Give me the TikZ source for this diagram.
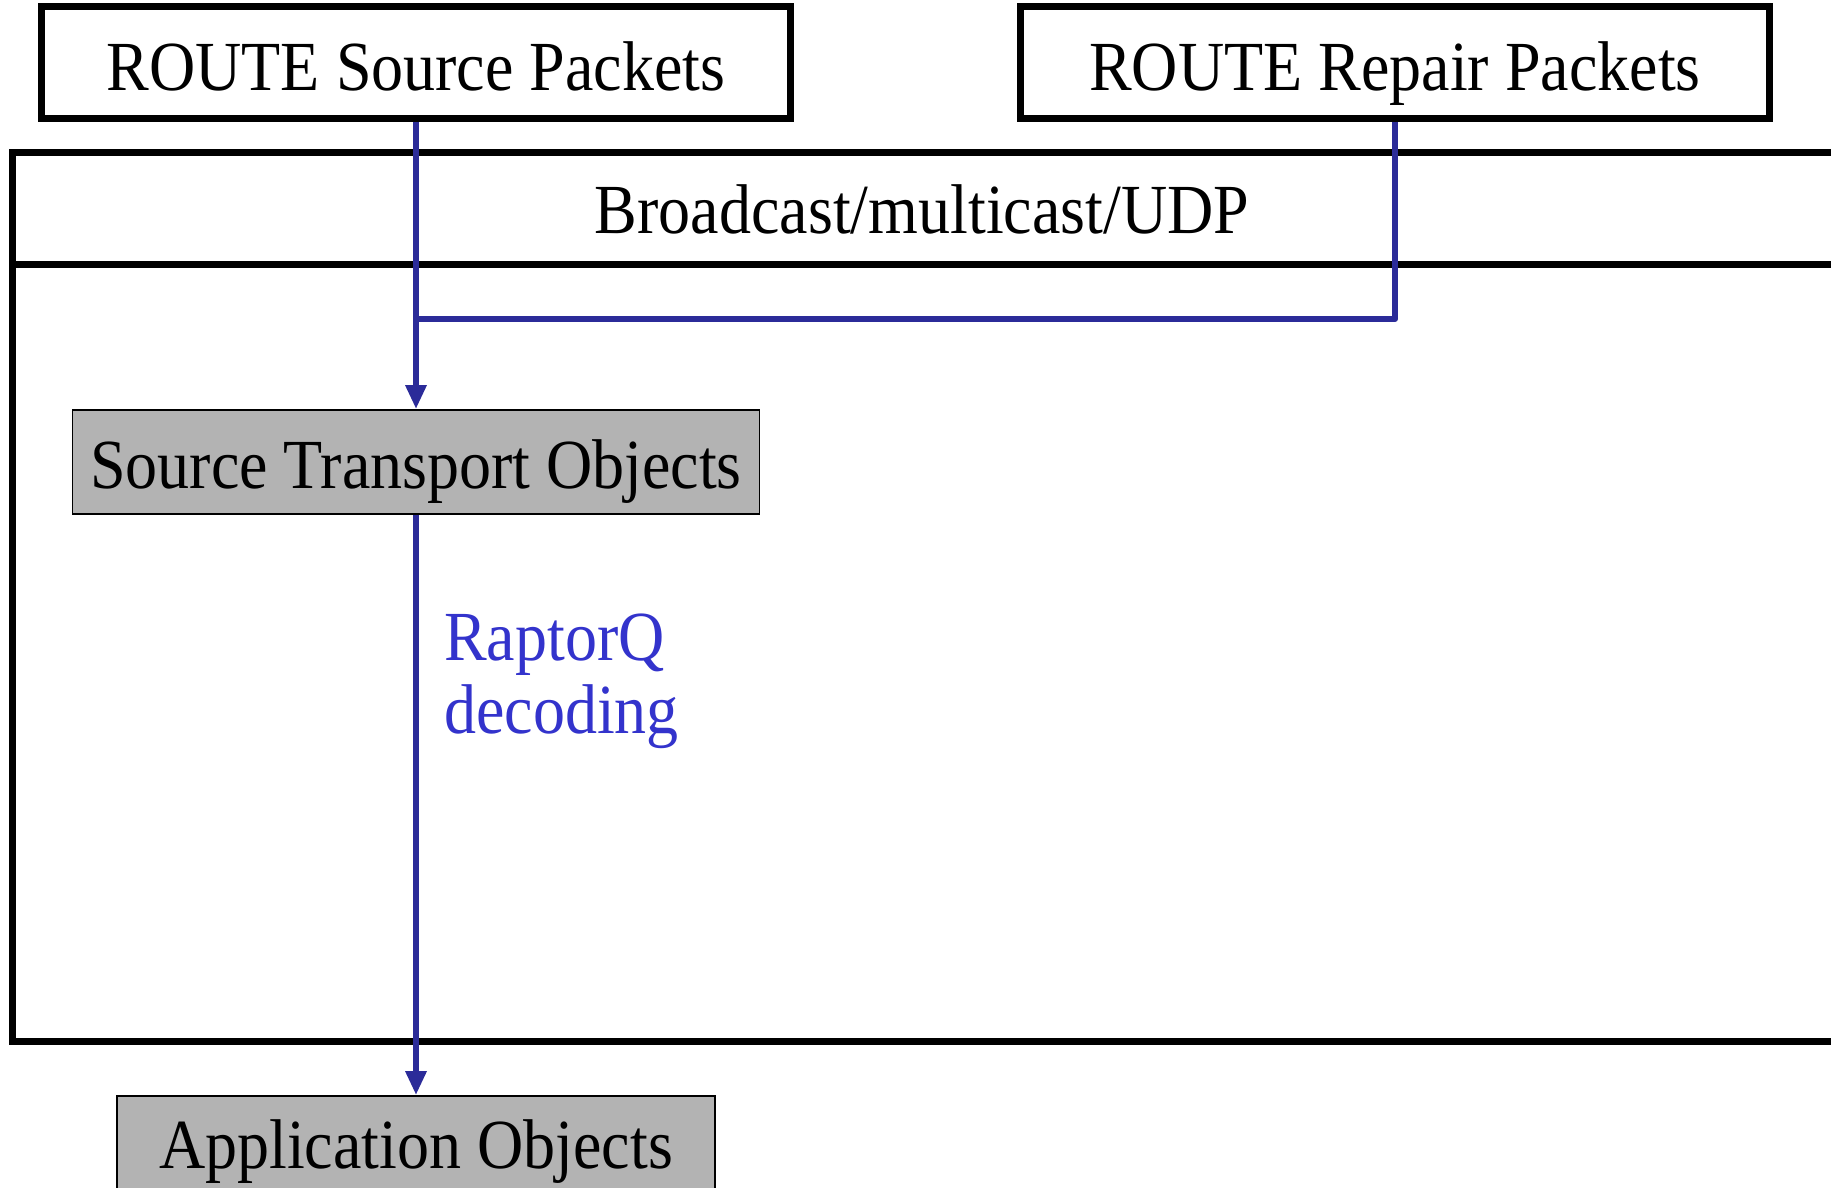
\documentclass[tikz,border=0pt]{standalone}
\usepackage{fontspec}
\setmainfont{Liberation Serif}
\usetikzlibrary{arrows.meta}
\definecolor{flow}{HTML}{2B2B99}
\definecolor{lbl}{HTML}{3333CC}
\definecolor{objfill}{HTML}{B3B3B3}
\newcommand{\tallt}[1]{\scalebox{1}[1.1]{#1}}
\tikzset{
  txt/.style={font=\fontsize{64}{73}\selectfont, inner sep=0pt},
  pktbox/.style={txt, draw=black, line width=7pt, minimum width=749pt,
                 anchor=base, text height=84pt, text depth=28pt},
  objbox/.style={txt, draw=black, line width=1.8pt, fill=objfill, anchor=base},
  frame/.style={draw=black, line width=7pt},
  flowline/.style={draw=flow, line width=6pt},
  flowarrow/.style={flowline, -{Triangle[length=24pt,width=20pt]}},
}
\begin{document}
\begin{tikzpicture}[x=1pt,y=-1pt]
  \useasboundingbox (0,0) rectangle (1831,1188);
  \clip (0,0) rectangle (1831,1188);

  % transport layer frame with its header band
  \draw[frame] (12,153) rectangle (1900,1041.5);
  \draw[frame] (12,264) -- (1900,264);
  \node[txt, anchor=base] (udp) at (922,233.5) {\tallt{Broadcast/multicast/UDP}};

  % packet sources
  \node[pktbox] (src) at (416,91) {\tallt{ROUTE Source Packets}};
  \node[pktbox] (rep) at (1395,91) {\tallt{ROUTE Repair Packets}};

  % object boxes
  \node[objbox, minimum width=687pt, text height=78pt, text depth=26pt]
       (sto) at (416,488) {\tallt{Source Transport Objects}};
  \node[objbox, minimum width=598pt, text height=72pt, text depth=120pt]
       (app) at (416,1168) {\tallt{Application Objects}};

  % packet flow
  \coordinate (join) at (416,319);
  \draw[flowline, line join=round] (rep.south) |- (join);
  \draw[flowarrow] (src.south) -- (sto.north);
  \draw[flowarrow] (sto.south) -- (app.north);

  % decoding step label
  \node[txt, anchor=base west, text=lbl] (rq) at (444,660) {\tallt{RaptorQ}};
  \node[txt, anchor=base west, text=lbl] (dec) at (444,733) {\tallt{decoding}};
\end{tikzpicture}
\end{document}
